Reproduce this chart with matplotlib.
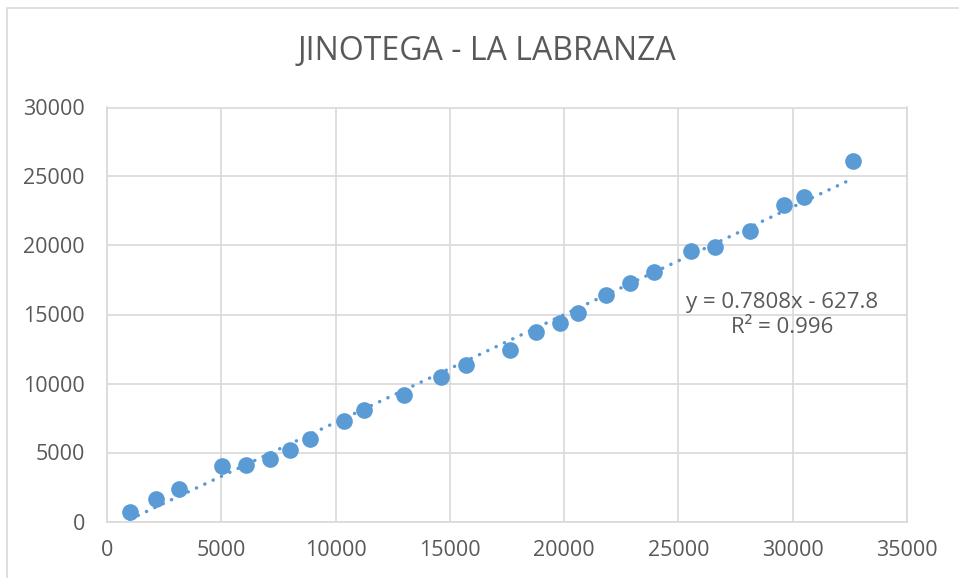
import matplotlib.pyplot as plt
from matplotlib.patches import Rectangle
import numpy as np

# datos de la estación
x_vals = [1000, 2150, 3150, 5050, 6100, 7150, 8000, 8900, 10350, 11250,
          13000, 14600, 15700, 17650, 18750, 19800, 20600, 21850, 22900,
          23950, 25550, 26600, 28150, 29600, 30500, 32650]
y_vals = [700, 1600, 2350, 4000, 4100, 4550, 5200, 6000, 7300, 8050,
          9150, 10450, 11350, 12450, 13750, 14400, 15100, 16400, 17300,
          18100, 19600, 19900, 21050, 22950, 23500, 26150]

# línea de tendencia (ajuste lineal)
slope = 0.7808
intercept = -627.8
r2 = 0.996

x_ticks = [0, 5000, 10000, 15000, 20000, 25000, 30000, 35000]
y_ticks = [0, 5000, 10000, 15000, 20000, 25000, 30000]

blue = '#5B9BD5'
grey_txt = '#595959'
grid_col = '#D9D9D9'

plt.rcParams['font.family'] = ['Open Sans', 'DejaVu Sans']

fig = plt.figure(figsize=(9.59, 5.78), dpi=100)
W, H = 959, 578

# marco del gráfico
fig.patches.append(Rectangle((7 / W, -0.1), 1.2, (H - 8) / H + 0.1,
                             transform=fig.transFigure, fill=False,
                             edgecolor=grid_col, linewidth=1.2))

ax = fig.add_axes([107 / W, (H - 521.5) / H, 800 / W, 414 / H])

ax.plot(x_vals, y_vals, 'o', color=blue, markersize=12, markeredgewidth=0, zorder=3)

xt = np.array([min(x_vals), max(x_vals)])
ax.plot(xt, slope * xt + intercept, color=blue, linewidth=2.5,
        linestyle=(0, (0.05, 2.6)), dash_capstyle='round', zorder=2)

ax.set_xlim(0, 35000)
ax.set_ylim(0, 30000)
ax.set_xticks(x_ticks)
ax.set_yticks(y_ticks)
ax.tick_params(length=0, labelsize=15.5, colors=grey_txt)
ax.tick_params(axis='y', pad=16)
ax.tick_params(axis='x', pad=13)
ax.grid(True, color=grid_col, linewidth=1.2)
ax.set_axisbelow(True)
for s in ax.spines.values():
    s.set_color(grid_col)
    s.set_linewidth(1.2)

fig.text(487 / W, 1 - 52 / H, 'JINOTEGA - LA LABRANZA', ha='center', va='center',
         fontsize=23, color=grey_txt)

ax.text(782 / W, 1 - 315 / H,
        f'y = {slope}x - {abs(intercept)}\nR² = {r2}',
        transform=fig.transFigure, ha='center', va='center', multialignment='center',
        fontsize=16, color=grey_txt, linespacing=1.25)

fig.savefig('out.png', dpi=100)
